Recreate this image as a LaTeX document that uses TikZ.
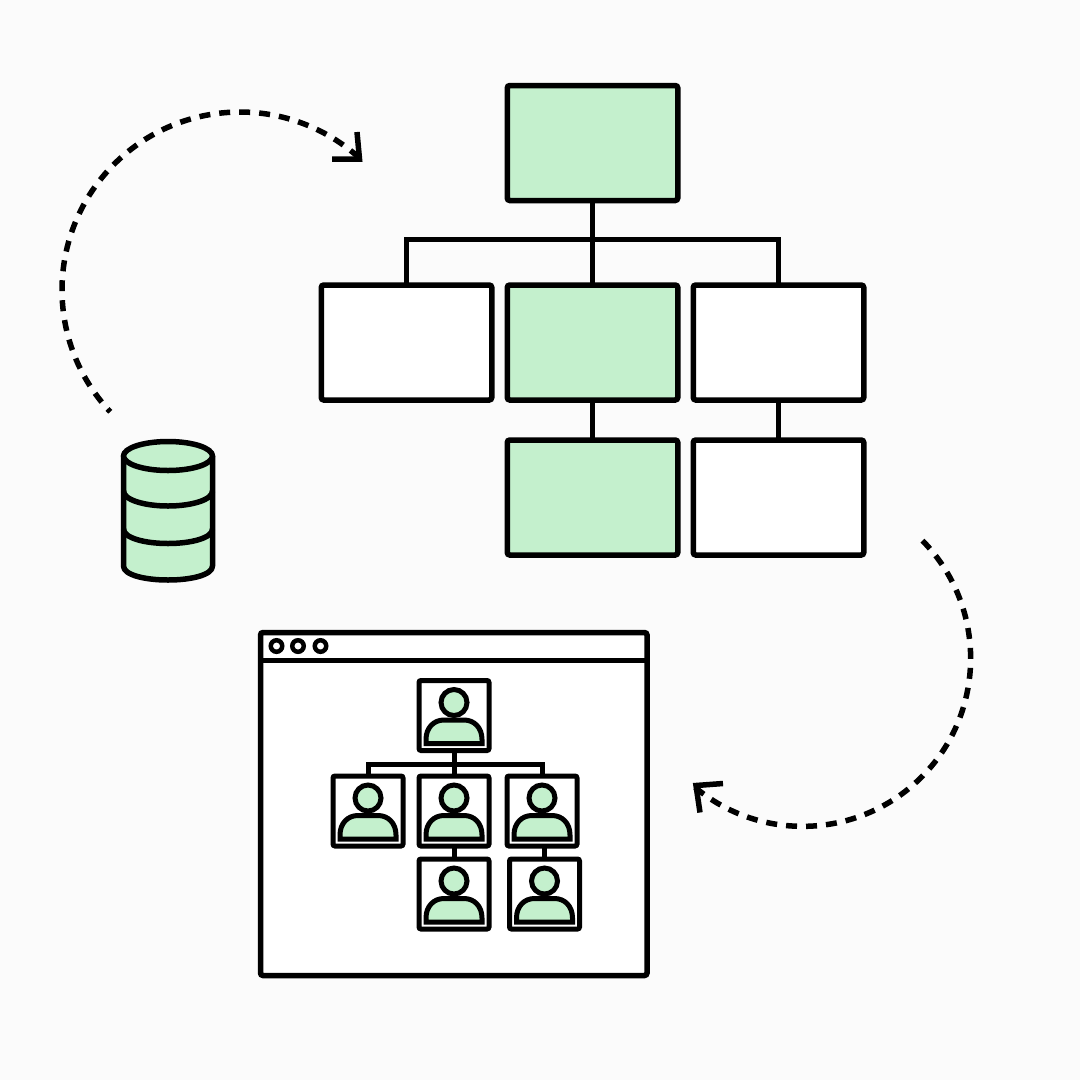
\documentclass[tikz,border=0pt]{standalone}
\definecolor{paper}{HTML}{FBFBFB}
\definecolor{mint}{HTML}{C4F0CD}
\tikzset{
  chart/.style={draw=black,line width=5.5pt,rounded corners=2.5pt,minimum width=170.5pt,minimum height=115pt,outer sep=0pt,inner sep=0pt,fill=white},
  chartgreen/.style={chart,fill=mint},
  link/.style={draw=black,line width=5.5pt,line cap=butt},
  minibox/.style={draw=black,line width=5pt,rounded corners=2pt,minimum width=70pt,minimum height=70pt,outer sep=0pt,inner sep=0pt,fill=white},
  minilink/.style={draw=black,line width=5pt},
  dot/.style={circle,draw=black,line width=4.5pt,minimum size=11.5pt,inner sep=0pt,outer sep=0pt,fill=white},
  flow/.style={draw=black,line width=5.5pt,dash pattern=on 11pt off 9pt},
  tip/.style={draw=black,line width=5.5pt,line join=miter},
  drum/.style={draw=black,line width=5.5pt,fill=mint,line join=round},
  person/.pic={
    \draw[line width=5pt,fill=mint] (0,13) circle (13pt);
    \draw[line width=5pt,fill=mint,line join=miter] (-28,-28) -- (-28,-24) .. controls (-28,-12) and (-20,-4.5) .. (-10,-4.5) -- (10,-4.5) .. controls (20,-4.5) and (28,-12) .. (28,-24) -- (28,-28) -- cycle;
  }
}
\begin{document}
\begin{tikzpicture}[x=1pt,y=1pt]
\useasboundingbox (0,-1080) rectangle (1080,0);
\fill[paper] (0,-1080) rectangle (1080,0);

% large org chart
\node[chartgreen] (a) at (592.5,-143) {};
\node[chart] (b) at (406.5,-342.5) {};
\node[chartgreen] (c) at (592.5,-342.5) {};
\node[chart] (d) at (778.5,-342.5) {};
\node[chartgreen] (e) at (592.5,-497.5) {};
\node[chart] (f) at (778.5,-497.5) {};
\coordinate (bus) at (592.5,-239.5);
\draw[link] (a.south) -- (c.north);
\draw[link] (b.north) |- (bus) -| (d.north);
\draw[link] (c.south) -- (e.north);
\draw[link] (d.south) -- (f.north);

% dashed arrows
\coordinate (c1) at (240,-290);
\draw[flow,dash phase=7pt,shift={(c1)}] (223.2:178pt) arc[start angle=223.2,end angle=48,radius=178pt];
\coordinate (t1) at (359.5,-159);
\coordinate (t1a) at (332,-159);
\coordinate (t1b) at (357,-132);
\draw[tip] (t1a) -- (t1) -- (t1b);

\coordinate (c2) at (803,-658);
\draw[flow,shift={(c2)}] (44.5:167.5pt) arc[start angle=44.5,end angle=-130.2,radius=168pt];
\coordinate (t2) at (696,-785.5);
\coordinate (t2a) at (723,-783.5);
\coordinate (t2b) at (700,-812.5);
\draw[tip] (t2a) -- (t2) -- (t2b);

% database
\draw[drum] (123.5,-456) -- (123.5,-566) .. controls (123.5,-575) and (145,-580) .. (168,-580) .. controls (191,-580) and (212.5,-575) .. (212.5,-566) -- (212.5,-456) -- cycle;
\draw[drum,fill=none] (123.5,-491) .. controls (123.5,-500) and (145,-506) .. (168,-506) .. controls (191,-506) and (212.5,-500) .. (212.5,-491);
\draw[drum,fill=none] (123.5,-529) .. controls (123.5,-538) and (145,-543.5) .. (168,-543.5) .. controls (191,-543.5) and (212.5,-538) .. (212.5,-529);
\draw[drum] (168,-456) ellipse (44.5pt and 14.5pt);

% window
\node[draw=black,line width=5.5pt,rounded corners=2.5pt,fill=white,minimum width=386.5pt,minimum height=343pt,inner sep=0pt,outer sep=0pt] (win) at (453.75,-804) {};
\coordinate (barleft) at (260.5,-660.5);
\coordinate (barright) at (647,-660.5);
\draw[link] (barleft) -- (barright);
\node[dot] (d1) at (276.5,-646) {};
\node[dot] (d2) at (298,-646) {};
\node[dot] (d3) at (320.5,-646) {};

% small org chart
\node[minibox] (p1) at (454,-715.5) {};
\node[minibox] (p2) at (368,-811) {};
\node[minibox] (p3) at (454,-811) {};
\node[minibox] (p4) at (542,-811) {};
\node[minibox] (p5) at (454,-894) {};
\node[minibox] (p6) at (544.5,-894) {};
\coordinate (minibus) at (454,-764);
\draw[minilink] (p1.south) -- (p3.north);
\draw[minilink] (p2.north) |- (minibus) -| (p4.north);
\draw[minilink] (p3.south) -- (p5.north);
\draw[minilink] (p6.north) -- (p6.north |- p4.south);
\foreach \n in {p1,p2,p3,p4,p5,p6} \pic at (\n) {person};
\end{tikzpicture}
\end{document}
